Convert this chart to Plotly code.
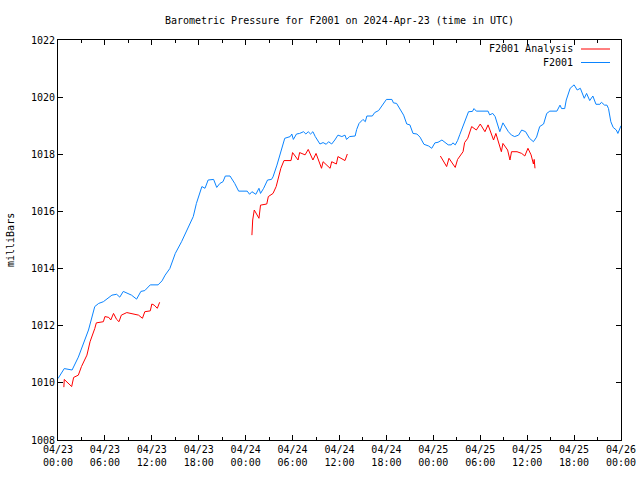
import plotly.graph_objects as go

# ---- data (hours since 2024-04-23 00:00 UTC) ----
station_hours = [0.0, 0.8, 1.8, 2.6, 3.9, 4.7, 5.2, 5.8, 6.9, 7.5, 7.9, 8.35, 9.4, 10.05, 10.6, 11.1, 11.8,
                 12.8, 13.3, 13.7, 14.3, 15.0, 15.8, 16.5, 17.3, 17.7, 18.4, 18.8, 19.2, 19.9, 20.3, 20.7,
                 21.1, 21.4, 22.0, 22.6, 23.1, 24.2, 24.5, 24.8, 25.3, 25.7, 25.9, 26.3, 26.8, 27.3, 27.5,
                 28.0, 28.4, 28.8, 29.0, 29.7, 29.9, 30.1, 30.5, 30.9, 31.4, 31.7, 32.0, 32.3, 32.6, 32.9,
                 33.2, 33.5, 33.9, 34.3, 34.6, 35.0, 35.4, 35.8, 36.3, 36.7, 36.9, 37.3, 38.0, 38.2, 38.5,
                 39.0, 39.3, 39.5, 40.2, 40.5, 41.0, 41.4, 42.0, 42.7, 42.9, 43.3, 43.7, 44.2, 44.6, 45.0,
                 45.4, 45.9, 46.3, 46.8, 47.4, 47.8, 48.2, 48.6, 49.1, 49.5, 49.9, 50.3, 50.5, 50.8, 51.1,
                 51.4, 51.8, 52.1, 52.5, 53.0, 53.2, 53.5, 55.0, 55.2, 55.6, 55.9, 56.2, 56.5, 56.9, 57.2,
                 57.6, 58.0, 58.4, 58.9, 59.3, 59.8, 60.3, 60.8, 61.2, 61.6, 62.1, 62.5, 62.9, 63.8, 64.2,
                 64.4, 64.8, 65.0, 65.5, 66.0, 66.4, 66.8, 67.3, 67.6, 68.0, 68.4, 68.8, 69.3, 69.5, 69.9,
                 70.2, 70.4, 70.7, 71.0, 71.4, 71.6, 71.9, 72.0]
station_mb = [1010.15, 1010.5, 1010.45, 1010.9, 1011.85, 1012.67, 1012.78, 1012.84, 1013.07, 1013.1, 1013.0,
              1013.2, 1013.07, 1012.93, 1013.2, 1013.23, 1013.43, 1013.43, 1013.57, 1013.77, 1014.0, 1014.53,
              1014.94, 1015.35, 1015.82, 1016.28, 1016.87, 1016.81, 1017.1, 1017.12, 1016.84, 1016.98, 1017.04,
              1017.24, 1017.24, 1016.98, 1016.71, 1016.71, 1016.6, 1016.69, 1016.6, 1016.81, 1016.63, 1016.81,
              1017.1, 1017.12, 1017.21, 1017.62, 1018.03, 1018.44, 1018.56, 1018.62, 1018.71, 1018.52, 1018.71,
              1018.73, 1018.79, 1018.71, 1018.79, 1018.71, 1018.79, 1018.62, 1018.5, 1018.36, 1018.41, 1018.35,
              1018.44, 1018.36, 1018.5, 1018.67, 1018.62, 1018.67, 1018.52, 1018.62, 1018.64, 1018.87, 1019.08,
              1019.22, 1019.14, 1019.34, 1019.34, 1019.46, 1019.53, 1019.67, 1019.92, 1019.92, 1019.8, 1019.78,
              1019.61, 1019.37, 1019.06, 1019.03, 1018.73, 1018.71, 1018.6, 1018.35, 1018.29, 1018.21, 1018.4,
              1018.42, 1018.5, 1018.4, 1018.33, 1018.33, 1018.4, 1018.33, 1018.48, 1018.7, 1019.0, 1019.25,
              1019.49, 1019.5, 1019.6, 1019.51, 1019.51, 1019.38, 1019.43, 1019.32, 1019.08, 1018.79, 1019.1,
              1018.97, 1018.79, 1018.67, 1018.62, 1018.67, 1018.85, 1018.79, 1018.56, 1018.44, 1018.6, 1018.97,
              1019.06, 1019.43, 1019.51, 1019.51, 1019.72, 1019.6, 1019.6, 1019.9, 1020.31, 1020.43, 1020.25,
              1020.31, 1019.96, 1020.13, 1019.88, 1020.04, 1019.75, 1019.75, 1019.82, 1019.72, 1019.72, 1019.6,
              1019.14, 1018.94, 1018.85, 1018.73, 1018.97, 1019.0]

analysis_hours = [0.75, 0.8, 1.75, 2.0, 2.6, 3.0, 3.7, 4.1, 4.7, 4.9, 5.8, 6.0, 6.5, 6.75, 7.1, 7.5, 7.8, 8.1,
                  8.8, 9.4, 10.3, 10.8, 11.1, 11.8, 12.0, 12.3, 12.7, 13.0, None,
                  24.8, 24.9, 25.1, 25.7, 25.9, 26.7, 26.9, 27.5, 27.9, 28.2, 28.5, 28.9, 29.8, 30.0, 30.7,
                  30.9, 31.6, 32.0, 32.6, 33.0, 33.7, 33.9, 34.8, 35.0, 35.6, 35.8, 36.7, 37.0, None,
                  48.9, 49.7, 50.0, 50.8, 51.1, 51.8, 52.0, 52.4, 52.9, 53.5, 54.0, 54.6, 55.0, 55.7, 56.0,
                  56.7, 56.9, 57.5, 57.8, 58.0, 58.7, 59.3, 59.7, 60.1, 60.5, 60.8, 60.9, 61.0]
analysis_mb = [1009.85, 1010.12, 1009.87, 1010.19, 1010.27, 1010.57, 1010.97, 1011.44, 1011.9, 1012.1, 1012.14,
               1012.32, 1012.29, 1012.2, 1012.43, 1012.22, 1012.14, 1012.37, 1012.46, 1012.43, 1012.37, 1012.26,
               1012.49, 1012.52, 1012.76, 1012.72, 1012.61, 1012.82, None,
               1015.17, 1015.7, 1016.05, 1015.76, 1016.22, 1016.26, 1016.52, 1016.63, 1016.87, 1017.16, 1017.51,
               1017.78, 1017.78, 1018.06, 1017.8, 1018.06, 1017.98, 1018.17, 1017.8, 1018.03, 1017.51, 1017.74,
               1017.51, 1017.74, 1017.66, 1017.92, 1017.78, 1018.01, None,
               1017.94, 1017.57, 1017.86, 1017.54, 1017.82, 1018.09, 1018.41, 1018.56, 1018.97, 1018.85, 1019.06,
               1018.79, 1019.03, 1018.5, 1018.73, 1018.09, 1018.38, 1018.15, 1017.8, 1018.09, 1018.09, 1018.03,
               1017.94, 1018.21, 1017.98, 1017.66, 1017.82, 1017.51]

x_tick_vals = [0, 6, 12, 18, 24, 30, 36, 42, 48, 54, 60, 66, 72]
x_tick_text = ["04/23<br>00:00", "04/23<br>06:00", "04/23<br>12:00", "04/23<br>18:00",
               "04/24<br>00:00", "04/24<br>06:00", "04/24<br>12:00", "04/24<br>18:00",
               "04/25<br>00:00", "04/25<br>06:00", "04/25<br>12:00", "04/25<br>18:00",
               "04/26<br>00:00"]
y_tick_vals = [1008, 1010, 1012, 1014, 1016, 1018, 1020, 1022]

series_names = ["F2001 Analysis", "F2001"]
series_colors = ["#ff0000", "#0a84ff"]

FONT = "DejaVu Sans Mono"

fig = go.Figure()
fig.add_trace(go.Scatter(x=analysis_hours, y=analysis_mb, mode="lines", name=series_names[0],
                         line=dict(color=series_colors[0], width=1), connectgaps=False))
fig.add_trace(go.Scatter(x=station_hours, y=station_mb, mode="lines", name=series_names[1],
                         line=dict(color=series_colors[1], width=1)))

W, H = 640, 480
L, R, T, B = 58, 19, 40, 40
pw, ph = W - L - R, H - T - B

def px(xpix):
    return (xpix - L) / pw

def py(ypix):
    return (H - B - ypix) / ph

fig.update_layout(
    width=W, height=H,
    margin=dict(l=L, r=R, t=T, b=B, autoexpand=False),
    paper_bgcolor="white", plot_bgcolor="white",
    showlegend=False,
    font=dict(family=FONT, size=10, color="black"),
    title=dict(text="Barometric Pressure for F2001 on 2024-Apr-23 (time in UTC)",
               x=0.5, xref="paper", xanchor="center", y=1 - 20 / H, yanchor="middle",
               font=dict(family=FONT, size=10, color="black")),
)
fig.update_xaxes(range=[0, 72], tickvals=x_tick_vals, ticktext=x_tick_text,
                 showgrid=False, zeroline=False, showline=True, linecolor="black", linewidth=1,
                 mirror="allticks", ticks="inside", ticklen=5, tickcolor="black", tickwidth=1,
                 minor=dict(dtick=3, tick0=0, ticks="inside", ticklen=3, tickcolor="black", showgrid=False),
                 tickfont=dict(family=FONT, size=10, color="black"))
fig.update_yaxes(range=[1008, 1022], tickvals=y_tick_vals,
                 showgrid=False, zeroline=False, showline=True, linecolor="black", linewidth=1,
                 mirror="allticks", ticks="inside", ticklen=5, tickcolor="black", tickwidth=1,
                 tickfont=dict(family=FONT, size=10, color="black"))

fig.add_annotation(text="milliBars", textangle=-90, xref="paper", yref="paper",
                   x=px(10), y=0.5, xanchor="center", yanchor="middle", showarrow=False,
                   font=dict(family=FONT, size=10, color="black"))

# legend (text right-aligned, sample line to the right, gnuplot style)
for i, (nm, col) in enumerate(zip(series_names, series_colors)):
    ypix = 49 + 13.5 * i
    fig.add_annotation(text=nm, xref="paper", yref="paper", x=px(575), y=py(ypix),
                       xanchor="right", yanchor="middle", showarrow=False,
                       font=dict(family=FONT, size=10, color="black"))
    fig.add_shape(type="line", xref="paper", yref="paper", x0=px(581), x1=px(610),
                  y0=py(ypix), y1=py(ypix), line=dict(color=col, width=1))

fig.write_html("out.html", config={"displayModeBar": False},
               post_script="document.body.style.margin='0';document.body.style.overflow='hidden';")
